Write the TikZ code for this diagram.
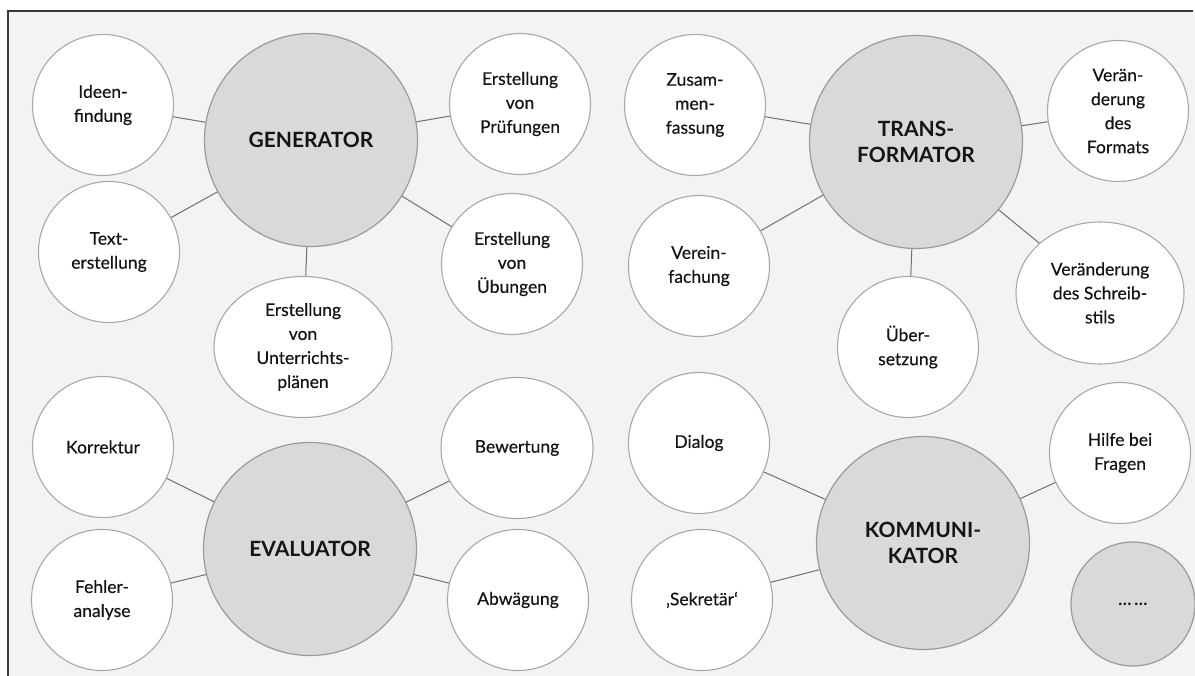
\documentclass[tikz,border=0pt]{standalone}
\usepackage{fontspec}
\setmainfont{Lato}
\newfontfamily\lblfont{Lato}[FakeBold=0.35]
\usetikzlibrary{shapes.geometric}
\definecolor{bgpanel}{HTML}{F3F3F3}
\definecolor{bigfill}{HTML}{D9D9D9}
\definecolor{rimgray}{HTML}{A8A8A8}
\definecolor{bigrim}{HTML}{9A9A9A}
\definecolor{linkgray}{HTML}{707070}
\definecolor{framecol}{HTML}{3A3A3A}
\tikzset{
  small/.style={circle, draw=rimgray, line width=1.1pt, fill=white, minimum size=141pt, inner sep=0pt, align=center, font=\lblfont\fontsize{17.5}{24}\selectfont, text=black!92},
  wide/.style={ellipse, draw=rimgray, line width=1.1pt, fill=white, inner sep=0pt, align=center, font=\lblfont\fontsize{17.5}{24}\selectfont, text=black!92},
  hub/.style={circle, draw=bigrim, line width=1.2pt, fill=bigfill, minimum size=213pt, inner sep=0pt, align=center, font=\fontsize{21}{26}\selectfont\bfseries, text=black!92},
  link/.style={draw=linkgray, line width=1pt}
}
\begin{document}
\begin{tikzpicture}[x=1pt,y=-1pt]
\useasboundingbox (0,0) rectangle (1195,676);
\fill[white] (0,0) rectangle (1195,676);
\fill[bgpanel] (8,11) rectangle (1195,676);
\draw[framecol, line width=2.2pt] (8,676) -- (8,11) -- (1193,11);

% GENERATOR
\node[hub] (gen) at (311,140) {GENERATOR};
\node[small] (ideen) at (103,105) {Ideen-\\findung};
\node[small] (pruef) at (520,104) {Erstellung\\von\\Prüfungen};
\node[small] (text) at (109,252) {Text-\\erstellung};
\node[small] (uebg) at (512,264) {Erstellung\\von\\Übungen};
\node[wide, minimum width=178pt, minimum height=141pt] (unter) at (303,347) {Erstellung\\von\\Unterrichts-\\plänen};

% TRANSFORMATOR
\node[hub] (trans) at (916,142) {TRANS-\\FORMATOR};
\node[small] (zus) at (695,105) {Zusam-\\men-\\fassung};
\node[small] (form) at (1118,111) {Verän-\\derung\\des\\Formats};
\node[small] (vere) at (699,266) {Verein-\\fachung};
\node[small] (uebs) at (908,347) {Über-\\setzung};
\node[wide, minimum width=168pt, minimum height=142pt] (stil) at (1100,293) {Veränderung\\des Schreib-\\stils};

% EVALUATOR
\node[hub] (eval) at (310,549) {EVALUATOR};
\node[small] (korr) at (103,447) {Korrektur};
\node[small] (fehl) at (102,600) {Fehler-\\analyse};
\node[wide, minimum width=152pt, minimum height=141pt] (bew) at (517,448) {Bewertung};
\node[small] (abw) at (518,600) {Abwägung};

% KOMMUNIKATOR
\node[hub] (komm) at (923,543) {KOMMUNI-\\KATOR};
\node[small] (dial) at (699,443) {Dialog};
\node[small] (sekr) at (702,600) {‚Sekretär‘};
\node[small] (hilf) at (1120,453) {Hilfe bei\\Fragen};
\node[circle, draw=bigrim, line width=1.2pt, fill=bigfill, minimum size=124pt, inner sep=0pt, font=\fontsize{17}{22}\selectfont\bfseries, text=black!92] (more) at (1133,604) {…\,…};

% connectors
\draw[link] (gen) -- (ideen);
\draw[link] (gen) -- (pruef);
\draw[link] (gen) -- (text);
\draw[link] (gen) -- (uebg);
\draw[link] (gen) -- (unter);
\draw[link] (trans) -- (zus);
\draw[link] (trans) -- (form);
\draw[link] (trans) -- (vere);
\draw[link] (trans) -- (uebs);
\draw[link] (trans) -- (stil);
\draw[link] (eval) -- (korr);
\draw[link] (eval) -- (fehl);
\draw[link] (eval) -- (bew);
\draw[link] (eval) -- (abw);
\draw[link] (komm) -- (dial);
\draw[link] (komm) -- (sekr);
\draw[link] (komm) -- (hilf);
\end{tikzpicture}
\end{document}
